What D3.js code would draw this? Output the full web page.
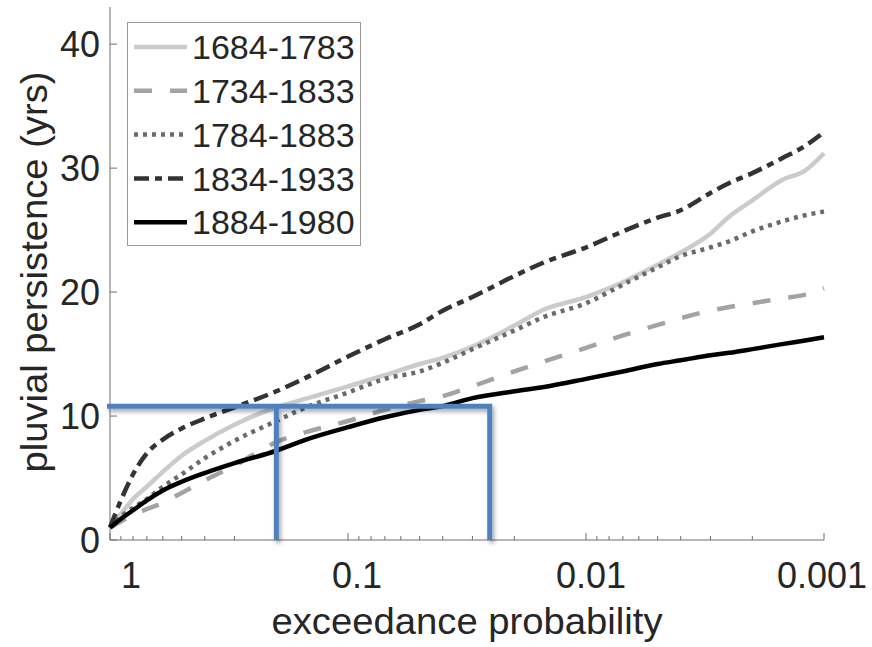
<!DOCTYPE html>
<html>
<head>
<meta charset="utf-8">
<script src="https://cdnjs.cloudflare.com/ajax/libs/d3/7.9.0/d3.min.js"></script>
<style>
  html, body { margin: 0; padding: 0; background: #fff; }
  svg text { font-family: Arial, "Liberation Sans", Helvetica, sans-serif; fill: #262626; }
</style>
</head>
<body>
<div id="root"></div>
<script>
// exceedance probabilities shared by every curve
const probs = [1, 0.9, 0.8, 0.7, 0.6, 0.5, 0.4, 0.3, 0.2, 0.15, 0.1, 0.07, 0.05, 0.04, 0.03,
  0.02, 0.015, 0.01, 0.007, 0.005, 0.004, 0.003, 0.0025, 0.002, 0.0015, 0.0012, 0.001];

// pluvial persistence (yrs) per period
const s1684 = [1.0, 2.1, 3.3, 4.3, 5.5, 6.8, 8.0, 9.3, 10.7, 11.4, 12.4, 13.3, 14.2, 14.7, 15.6,
  17.3, 18.6, 19.6, 20.8, 22.2, 23.2, 24.7, 26.1, 27.4, 29.05, 29.8, 31.2];
const s1734 = [1.0, 1.5, 2.0, 2.5, 3.0, 3.8, 4.8, 6.0, 7.9, 8.7, 9.6, 10.5, 11.2, 11.6, 12.4,
  13.6, 14.4, 15.5, 16.5, 17.35, 17.9, 18.5, 18.8, 19.1, 19.5, 19.8, 20.3];
const s1784 = [1.0, 1.9, 2.6, 3.3, 4.3, 5.3, 6.6, 8.0, 9.6, 10.7, 11.9, 13.0, 13.6, 14.3, 15.4,
  16.9, 18.0, 19.1, 20.6, 22.0, 22.9, 23.6, 24.1, 24.9, 25.7, 26.2, 26.5];
const s1834 = [1.0, 3.2, 5.3, 7.0, 8.1, 9.0, 9.8, 10.7, 12.0, 13.1, 14.8, 16.2, 17.4, 18.5, 19.6,
  21.3, 22.4, 23.6, 24.9, 26.0, 26.6, 28.0, 28.8, 29.6, 30.8, 31.8, 32.9];
const s1884 = [1.0, 1.7, 2.4, 3.2, 4.0, 4.7, 5.4, 6.2, 7.2, 8.1, 9.1, 9.9, 10.5, 10.8, 11.45,
  12.0, 12.35, 13.0, 13.6, 14.2, 14.5, 14.9, 15.1, 15.4, 15.8, 16.1, 16.35];

const seriesNames = ['1684-1783', '1734-1833', '1784-1883', '1834-1933', '1884-1980'];
const seriesValues = [s1684, s1734, s1784, s1834, s1884];

// axis ticks
const xTicks = [1, 0.1, 0.01, 0.001];
const xTickLabels = ['1', '0.1', '0.01', '0.001'];
const yTicks = [0, 10, 20, 30, 40];

// blue annotation: persistence level and two probabilities
const annoLevel = 10.8;
const annoProbs = [0.2, 0.026];

(function () {
  const W = 872, H = 647;
  const x0 = 110, x1 = 824, yTop = 7, yBot = 540;

  const styles = [
    { color: '#cbcbcb', dash: null },
    { color: '#a3a3a3', dash: '18,18' },
    { color: '#6a6a6a', dash: '4,5' },
    { color: '#333333', dash: '15,6,7,6' },
    { color: '#000000', dash: null }
  ];

  const svg = d3.select('#root').append('svg')
    .attr('width', W).attr('height', H);

  const defs = svg.append('defs');
  const f = defs.append('filter').attr('id', 'shadow')
    .attr('x', '-20%').attr('y', '-20%').attr('width', '140%').attr('height', '140%');
  f.append('feDropShadow').attr('dx', 2).attr('dy', 3).attr('stdDeviation', 2)
    .attr('flood-color', '#000').attr('flood-opacity', 0.35);

  const x = d3.scaleLog().domain([1, 0.001]).range([x0, x1]);
  const y = d3.scaleLinear().domain([0, 43]).range([yBot, yTop]);

  // axes (MATLAB-ish: inward ticks, box off)
  const axis = svg.append('g').attr('stroke', '#6f6f6f').attr('stroke-width', 1);
  axis.append('line').attr('x1', x0).attr('x2', x0).attr('y1', yTop).attr('y2', yBot);
  axis.append('line').attr('x1', x0).attr('x2', x1).attr('y1', yBot).attr('y2', yBot);

  yTicks.forEach(t => {
    axis.append('line').attr('x1', x0).attr('x2', x0 + 7).attr('y1', y(t)).attr('y2', y(t));
  });

  // log ticks: majors at decades, minors at 2..9
  const minor = [];
  [1, 0.1, 0.01].forEach(d => {
    for (let k = 2; k <= 9; k++) minor.push(d * k / 10);
  });
  minor.forEach(t => {
    axis.append('line').attr('x1', x(t)).attr('x2', x(t)).attr('y1', yBot).attr('y2', yBot - 4);
  });
  xTicks.forEach(t => {
    axis.append('line').attr('x1', x(t)).attr('x2', x(t)).attr('y1', yBot).attr('y2', yBot - 7);
  });

  // tick labels
  const yl = svg.append('g').attr('font-size', 36).attr('text-anchor', 'end');
  yTicks.forEach(t => {
    yl.append('text').attr('x', x0 - 10).attr('y', y(t)).attr('dy', '0.36em').text(t);
  });
  const xOff = [21, 9, 5, -2];
  const xl = svg.append('g').attr('font-size', 36).attr('text-anchor', 'middle');
  xTicks.forEach((t, i) => {
    xl.append('text').attr('x', x(t) + xOff[i]).attr('y', 588).text(xTickLabels[i]);
  });

  // axis titles
  svg.append('text').attr('x', 467).attr('y', 634).attr('font-size', 36)
    .attr('text-anchor', 'middle')
    .attr('textLength', 391).attr('lengthAdjust', 'spacingAndGlyphs')
    .text('exceedance probability');
  svg.append('text').attr('transform', 'translate(47,272) rotate(-90)')
    .attr('font-size', 36).attr('text-anchor', 'middle')
    .attr('textLength', 401).attr('lengthAdjust', 'spacingAndGlyphs')
    .text('pluvial persistence (yrs)');

  // curves
  const line = d3.line()
    .x(d => x(d[0]))
    .y(d => y(d[1]))
    .curve(d3.curveMonotoneX);

  const plot = svg.append('g');
  seriesValues.forEach((vals, i) => {
    const pts = probs.map((p, j) => [p, vals[j]]);
    plot.append('path')
      .attr('d', line(pts))
      .attr('fill', 'none')
      .attr('stroke', styles[i].color)
      .attr('stroke-width', 4.5)
      .attr('stroke-dasharray', styles[i].dash)
      .attr('stroke-linejoin', 'round');
  });

  // blue annotation lines
  const anno = svg.append('g').attr('filter', 'url(#shadow)')
    .attr('stroke', '#4f81bd').attr('stroke-width', 5).attr('fill', 'none');
  const annoPath = d3.path();
  annoPath.moveTo(x(1) - 3, y(annoLevel));
  annoPath.lineTo(x(d3.min(annoProbs)) + 2.5, y(annoLevel));
  annoPath.lineTo(x(d3.min(annoProbs)) + 2.5, yBot);
  anno.append('path').attr('d', annoPath.toString()).attr('stroke-linejoin', 'miter');
  anno.append('line')
    .attr('x1', x(annoProbs[0])).attr('x2', x(annoProbs[0]))
    .attr('y1', y(annoLevel)).attr('y2', yBot);

  // legend
  const lg = svg.append('g');
  lg.append('rect').attr('x', 127.5).attr('y', 22.5).attr('width', 233).attr('height', 223)
    .attr('fill', '#fff').attr('stroke', '#9a9a9a').attr('stroke-width', 1);
  seriesNames.forEach((name, i) => {
    const cy = 47 + i * 43.8;
    lg.append('line').attr('x1', 134).attr('x2', 187).attr('y1', cy).attr('y2', cy)
      .attr('stroke', styles[i].color).attr('stroke-width', 4.5)
      .attr('stroke-dasharray', styles[i].dash);
    lg.append('text').attr('x', 192).attr('y', cy).attr('dy', '0.36em')
      .attr('font-size', 34).attr('fill', '#000').text(name);
  });
})();
</script>
</body>
</html>
